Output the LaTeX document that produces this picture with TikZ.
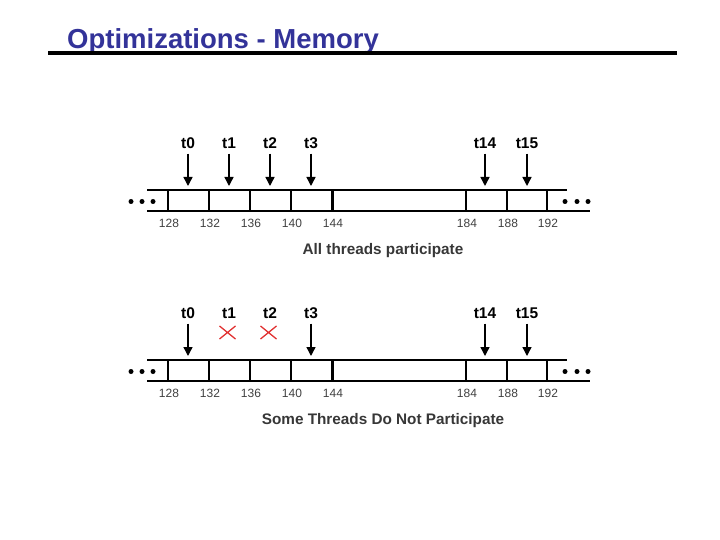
\documentclass[tikz,border=0pt]{standalone}
\usepackage{fontspec}
\setmainfont{Liberation Sans}
\usetikzlibrary{arrows.meta}
\definecolor{titleblue}{RGB}{51,51,153}
\definecolor{capgray}{RGB}{55,55,55}
\definecolor{nored}{RGB}{225,50,50}

\begin{document}
\begin{tikzpicture}[x=1pt,y=-1pt,
    thr/.style={font=\bfseries\fontsize{15.5}{15.5}\selectfont, inner sep=1pt},
    addr/.style={font=\fontsize{12}{12}\selectfont, text=black!75, inner sep=0pt},
    captext/.style={font=\bfseries\fontsize{15.3}{15.3}\selectfont, text=capgray},
    ptr/.style={line width=1.4pt, -{Triangle[length=9pt,width=9pt]}, shorten <=4pt},
    rail/.style={line width=2.5pt},
    wall/.style={line width=2pt},
    nope/.style={nored, line width=1.3pt}]
    \useasboundingbox (0,0) rectangle (720,540);
    % title
    \node[anchor=base west, inner sep=0pt, text=titleblue,
          font=\bfseries\fontsize{27.5}{27.5}\selectfont] (title) at (67,49) {Optimizations - Memory};
    \draw[line width=3.5pt] (48,53) -- (677,53);
    % the two strips
    \foreach \dy/\r/\txt in {0/a/All threads participate, 170/b/Some Threads Do Not Participate}{
        \draw[rail] (147,190+\dy) -- (567,190+\dy);
        \draw[rail] (147,211+\dy) -- (590,211+\dy);
        \foreach \x/\n in {168/128,209/132,250/136,291/140,466/184,507/188,547/192}{
            \draw[wall] (\x,190+\dy) -- (\x,211+\dy);
            \node[addr] (\r\n) at (\x+1,223.5+\dy) {\n};
        }
        \draw[line width=3pt] (332,190+\dy) -- (332,211+\dy);
        \node[addr] (\r144) at (333,223.5+\dy) {144};
        \foreach \x in {131,142,153,565,577,588}{\fill (\x,201.5+\dy) circle (2.5pt);}
        \foreach \x/\t in {188/0,229/1,270/2,311/3,485/14,527/15}{
            \node[thr] (\r t\t) at (\x,143+\dy) {t\t};
            \coordinate (\r c\t) at (\x,186+\dy);
        }
        \node[captext] (\r cap) at (383,250.5+\dy) {\txt};
    }
    % all threads read
    \foreach \t in {0,1,2,3,14,15}{\draw[ptr] (at\t) -- (ac\t);}
    % t1 and t2 stay out
    \foreach \t in {0,3,14,15}{\draw[ptr] (bt\t) -- (bc\t);}
    \foreach \t in {1,2}{
        \path (bt\t) ++(-1.5,19.5) coordinate (bx\t);
        \draw[nope] (bx\t) +(-8,-6.5) -- +(8,6.5) (bx\t) +(-8,6.5) -- +(8,-6.5);
    }
\end{tikzpicture}
\end{document}
